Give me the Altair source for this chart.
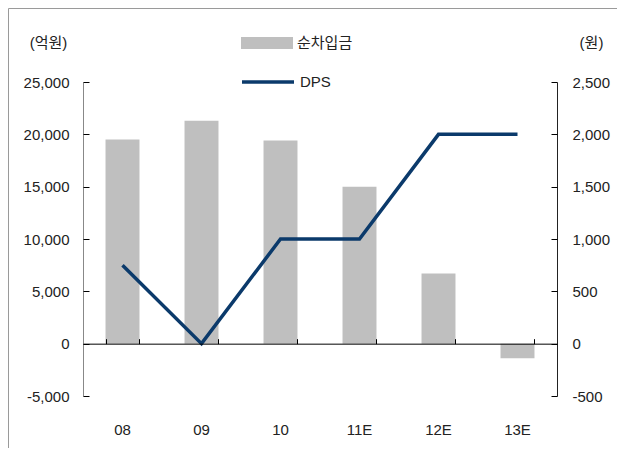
import altair as alt
import pandas as pd

# ---- data ----
years = ["08", "09", "10", "11E", "12E", "13E"]
net_debt = [19500, 21300, 19400, 15000, 6700, -1400]   # 순차입금 (억원)
dps = [750, 0, 1000, 1000, 2000, 2000]                 # DPS (원)
bar_name = "순차입금"
line_name = "DPS"
left_ticks = [-5000, 0, 5000, 10000, 15000, 20000, 25000]
right_ticks = [-500, 0, 500, 1000, 1500, 2000, 2500]
left_domain = [-5000, 25000]
right_domain = [-500, 2500]
left_unit = "(억원)"
right_unit = "(원)"

W, H = 474, 314
FONT = "Liberation Sans Narrow, Arial Narrow, Liberation Sans, Noto Sans CJK KR, sans-serif"
TXT = "#222222"
BAR_C = "#BFBFBF"
LINE_C = "#0B3A6B"
zero_off = H * left_domain[1] / (left_domain[1] - left_domain[0])
HYPHEN = "replace(datum.label, '\u2212', '-')"

df = pd.DataFrame({"year": years, "net": net_debt, "dps": dps,
                   "bar_s": [bar_name] * len(years), "line_s": [line_name] * len(years)})

xscale = alt.Scale(domain=years, paddingInner=0.57, paddingOuter=0.285)
yl = alt.Scale(domain=left_domain, nice=False)
yr = alt.Scale(domain=right_domain, nice=False)

base = alt.Chart(df)

bars = base.mark_bar().encode(
    x=alt.X("year:N", scale=xscale,
            axis=alt.Axis(orient="bottom", title=None, domain=False, ticks=False,
                          labelAngle=0, labelPadding=26)),
    y=alt.Y("net:Q", scale=yl,
            axis=alt.Axis(orient="left", values=left_ticks, format=",.0f", labelExpr=HYPHEN,
                          grid=False, ticks=False, domainColor="#888888", labelPadding=14,
                          title=left_unit, titleAngle=0, titleX=-35, titleY=-40,
                          titleAlign="center", titleBaseline="middle")),
    fill=alt.Fill("bar_s:N", scale=alt.Scale(range=[BAR_C]),
                  legend=alt.Legend(orient="none", legendX=158, legendY=-65, title=None,
                                    symbolType="M-1,-0.23H1V0.23H-1Z", symbolSize=2704,
                                    symbolStrokeWidth=0, padding=0, labelOffset=4)),
)

line = base.mark_line(strokeWidth=3.5).encode(
    x=alt.X("year:N", scale=xscale, axis=None),
    y=alt.Y("dps:Q", scale=yr,
            axis=alt.Axis(orient="right", values=right_ticks, format=",.0f", labelExpr=HYPHEN,
                          grid=False, ticks=False, domainColor="#222222", labelPadding=15,
                          title=right_unit, titleAngle=0, titleX=34, titleY=-40,
                          titleAlign="center", titleBaseline="middle")),
    stroke=alt.Stroke("line_s:N", scale=alt.Scale(range=[LINE_C]),
                      legend=alt.Legend(orient="none", legendX=157, legendY=-28, title=None,
                                        symbolType="stroke", symbolSize=2704,
                                        symbolStrokeWidth=3.5, padding=0, labelOffset=4)),
)

# inward ticks for the left scale + zero line with category separators
tick_left = base.mark_bar(opacity=0).encode(
    x=alt.X("year:N", scale=xscale,
            axis=alt.Axis(orient="top", offset=-zero_off, labels=False, tickBand="extent",
                          tickSize=5, tickColor="#000000", domainColor="#000000",
                          title=None, zindex=1)),
    y=alt.Y("net:Q", scale=yl,
            axis=alt.Axis(orient="right", offset=-W, values=left_ticks, labels=False,
                          domain=False, tickSize=6, tickColor="#000000", title=None,
                          grid=False)),
)

# inward ticks for the right scale
tick_right = base.mark_line(opacity=0).encode(
    x=alt.X("year:N", scale=xscale, axis=None),
    y=alt.Y("dps:Q", scale=yr,
            axis=alt.Axis(orient="left", offset=-W, values=right_ticks, labels=False,
                          domain=False, tickSize=6, tickColor="#000000", title=None,
                          grid=False)),
)

frame_df = pd.DataFrame({"k": [0]})
frame_top = alt.Chart(frame_df).mark_rule(color="#9A9A9A", strokeWidth=1).encode(
    x=alt.value(-74.5), x2=alt.value(534), y=alt.value(-73.5))
frame_left = alt.Chart(frame_df).mark_rule(color="#9A9A9A", strokeWidth=1).encode(
    x=alt.value(-74.5), y=alt.value(-73.5), y2=alt.value(366))

chart = (
    alt.layer(frame_top, frame_left, bars, line, tick_left, tick_right)
    .resolve_scale(y="independent")
    .resolve_axis(x="independent", y="independent")
    .properties(width=W, height=H, padding=0)
    .configure_view(stroke=None)
    .configure_axis(labelFont=FONT, labelFontSize=15, labelColor=TXT,
                    titleFont=FONT, titleFontSize=15, titleColor=TXT,
                    titleFontWeight="normal")
    .configure_legend(labelFont=FONT, labelFontSize=15, labelColor=TXT)
)

chart.save("out.html", embed_options={"renderer": "svg", "actions": False})
